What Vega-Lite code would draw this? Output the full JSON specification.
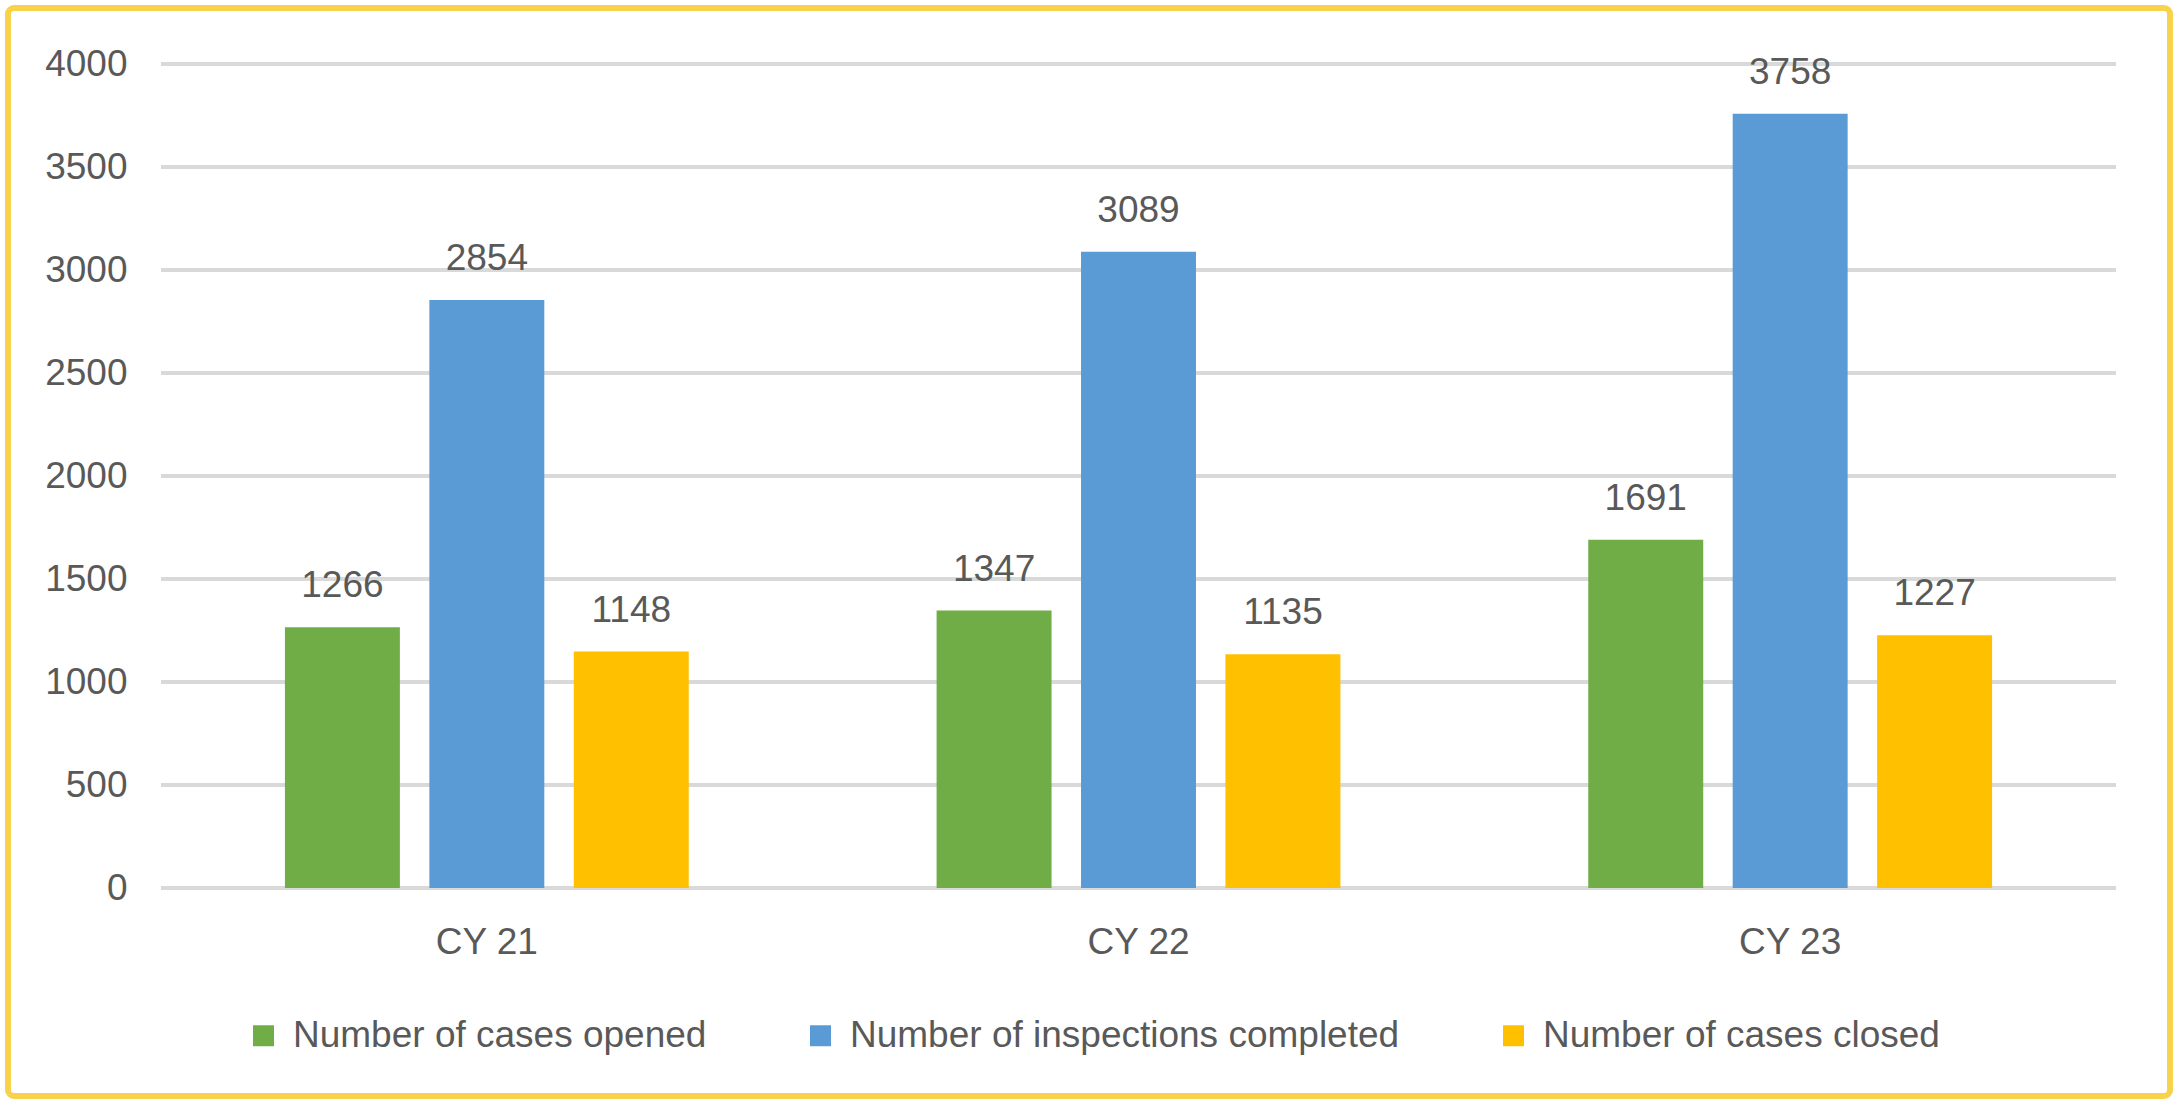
{
  "$schema": "https://vega.github.io/schema/vega-lite/v6.json",
  "width": 2162,
  "height": 1088,
  "autosize": {"type": "none"},
  "padding": {"left": 8, "top": 8, "right": 7, "bottom": 3},
  "background": "white",
  "datasets": {
    "bars": [
      {"year": "CY 21", "series": "Number of cases opened", "value": 1266},
      {"year": "CY 21", "series": "Number of inspections completed", "value": 2854},
      {"year": "CY 21", "series": "Number of cases closed", "value": 1148},
      {"year": "CY 22", "series": "Number of cases opened", "value": 1347},
      {"year": "CY 22", "series": "Number of inspections completed", "value": 3089},
      {"year": "CY 22", "series": "Number of cases closed", "value": 1135},
      {"year": "CY 23", "series": "Number of cases opened", "value": 1691},
      {"year": "CY 23", "series": "Number of inspections completed", "value": 3758},
      {"year": "CY 23", "series": "Number of cases closed", "value": 1227}
    ],
    "grid": [
      {"g": 0}, {"g": 500}, {"g": 1000}, {"g": 1500}, {"g": 2000},
      {"g": 2500}, {"g": 3000}, {"g": 3500}, {"g": 4000}
    ]
  },
  "resolve": {"scale": {"x": "independent"}},
  "layer": [
    {
      "data": {"name": "grid"},
      "mark": {"type": "rule", "color": "#D9D9D9", "strokeWidth": 4},
      "encoding": {
        "y": {
          "field": "g", "type": "quantitative",
          "scale": {"domain": [0, 4000], "range": [880, 56], "nice": false, "zero": true},
          "axis": {
            "orient": "left", "offset": -153, "values": [0, 500, 1000, 1500, 2000, 2500, 3000, 3500, 4000],
            "format": "d",
            "grid": false, "ticks": false, "tickSize": 0, "domain": false, "labelPadding": 34,
            "labelFontSize": 37, "labelFont": "Liberation Sans", "labelColor": "#595959",
            "labelBaseline": "middle", "title": null
          }
        },
        "x": {"datum": 0, "type": "quantitative", "scale": {"domain": [0, 1], "range": [153, 2108], "nice": false, "zero": false}, "axis": null},
        "x2": {"datum": 1}
      }
    },
    {
      "data": {"name": "bars"},
      "mark": {"type": "bar"},
      "encoding": {
        "x": {
          "field": "year", "type": "nominal",
          "scale": {"range": [153, 2108], "paddingInner": 0, "paddingOuter": 0},
          "axis": {
            "orient": "bottom", "offset": -208, "ticks": false, "tickSize": 0, "domain": false, "grid": false,
            "labelPadding": 65, "labelBaseline": "alphabetic", "labelAngle": 0,
            "labelFontSize": 37, "labelFont": "Liberation Sans", "labelColor": "#595959", "title": null
          }
        },
        "xOffset": {
          "field": "series", "type": "nominal",
          "sort": ["Number of cases opened", "Number of inspections completed", "Number of cases closed"],
          "scale": {"paddingInner": 0.204, "paddingOuter": 0.858}
        },
        "y": {
          "field": "value", "type": "quantitative",
          "scale": {"domain": [0, 4000], "range": [880, 56], "nice": false, "zero": true}
        },
        "color": {
          "field": "series", "type": "nominal",
          "scale": {
            "domain": ["Number of cases opened", "Number of inspections completed", "Number of cases closed"],
            "range": ["#70AD47", "#5B9BD5", "#FFC000"]
          },
          "legend": {
            "orient": "none", "legendX": 237, "legendY": 1009, "direction": "horizontal",
            "title": null, "symbolType": "square", "symbolSize": 440, "symbolStrokeWidth": 0,
            "labelFontSize": 37, "labelFont": "Liberation Sans", "labelColor": "#595959",
            "labelOffset": 11, "columnPadding": 95, "padding": 0, "labelLimit": 1000
          }
        }
      }
    },
    {
      "data": {"name": "bars"},
      "mark": {"type": "text", "font": "Liberation Sans", "fontSize": 37, "color": "#595959", "baseline": "alphabetic", "align": "center", "dy": -30},
      "encoding": {
        "x": {"field": "year", "type": "nominal", "scale": {"range": [153, 2108], "paddingInner": 0, "paddingOuter": 0}, "axis": null},
        "xOffset": {
          "field": "series", "type": "nominal",
          "sort": ["Number of cases opened", "Number of inspections completed", "Number of cases closed"],
          "scale": {"paddingInner": 0.204, "paddingOuter": 0.858}
        },
        "y": {"field": "value", "type": "quantitative"},
        "text": {"field": "value", "type": "quantitative", "format": "d"}
      }
    }
  ],
  "config": {
    "view": {"stroke": "#F8D24B", "strokeWidth": 6, "cornerRadius": 6},
    "axis": {"grid": false, "ticks": false, "domain": false}
  }
}
